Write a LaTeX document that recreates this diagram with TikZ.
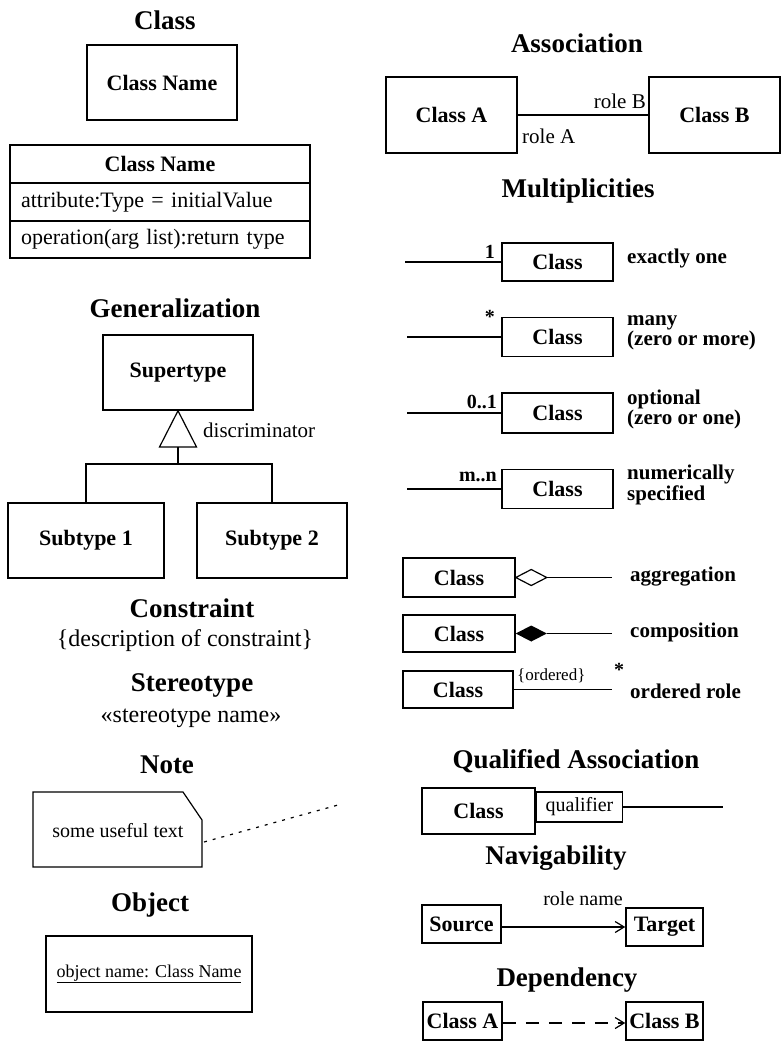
\documentclass[tikz,border=0pt]{standalone}
\usepackage{fontspec}
\setmainfont{Liberation Serif}
\usetikzlibrary{arrows.meta,calc}
\begin{document}
\begin{tikzpicture}[x=1pt,y=-1pt,
  box/.style={draw, line width=1.5pt, inner sep=0pt, font=\bfseries\fontsize{22}{24}\selectfont},
  ttl/.style={inner sep=0pt, font=\bfseries\fontsize{27}{30}\selectfont},
  txt/.style={inner sep=0pt, font=\fontsize{21}{23}\selectfont},
  big/.style={inner sep=0pt, font=\fontsize{24}{26}\selectfont},
  lbl/.style={inner sep=0pt, align=left, font=\bfseries\fontsize{21}{19}\selectfont},
  mult/.style={inner sep=0pt, font=\bfseries\fontsize{20}{22}\selectfont},
  ln/.style={line width=1.2pt},
  thk/.style={line width=2pt},
  opentip/.style={-{Straight Barb[length=9pt,width=11pt,line width=1.2pt]}}
]
\useasboundingbox (0,0) rectangle (783,1045);

% ---------- Class ----------
\node[ttl] (tclass) at (165,20) {Class};
\node[box, minimum width=150, minimum height=75] (cls1) at (162,82.5) {Class Name};
\node[box, minimum width=300, minimum height=38] (cn) at (160,164) {Class Name};
\node[box, font=\fontsize{22}{24}\selectfont, minimum width=300, minimum height=38, text width=278, align=left, inner xsep=11pt] (attr) at (160,202) {attribute:Type = initialValue};
\node[box, font=\fontsize{22}{24}\selectfont, minimum width=300, minimum height=37, text width=278, align=left, inner xsep=11pt] (op) at (160,239.5) {operation(arg list):return type};

% ---------- Generalization ----------
\node[ttl] (tgen) at (175,308) {Generalization};
\node[box, minimum width=150, minimum height=75] (super) at (178,372.5) {Supertype};
\node[box, minimum width=156, minimum height=75] (sub1) at (86,540.5) {Subtype 1};
\node[box, minimum width=150, minimum height=75] (sub2) at (272,540.5) {Subtype 2};
\coordinate (tb) at (178,447);
\coordinate (j) at (178,464);
\draw[ln] (super.south) -- (159.5,447) -- (196.5,447) -- cycle;
\draw[ln] (tb) -- (j);
\draw[ln] (sub1.north) |- (j) -| (sub2.north);
\node[txt, anchor=west] (disc) at (203,430) {discriminator};

% ---------- Constraint / Stereotype ----------
\node[ttl] (tcon) at (192,608) {Constraint};
\node[big] (con) at (185,641) {\{description of constraint\}};
\node[ttl] (tster) at (192,685) {Stereotype};
\node[big] (ster) at (191,718) {«stereotype name»};

% ---------- Note ----------
\node[ttl] (tnote) at (167,765) {Note};
\draw[ln] (33,792) -- (183,792) -- (202,820) -- (202,867) -- (33,867) -- cycle;
\node[txt, font=\fontsize{20}{22}\selectfont] (notetxt) at (118,831) {some useful text};
\coordinate (na) at (204,842);
\coordinate (nb) at (338,805);
\draw[line width=1.2pt, dash pattern=on 3pt off 6pt] (na) -- (nb);

% ---------- Object ----------
\node[ttl] (tobj) at (150,905) {Object};
\node[box, font=\fontsize{18}{20}\selectfont, minimum width=206, minimum height=76] (obj) at (149,974) {\underline{object name: Class Name}};

% ---------- Association ----------
\node[ttl] (tassoc) at (577,43) {Association};
\node[box, minimum width=131, minimum height=76] (ca) at (451.5,115) {Class A};
\node[box, minimum width=131, minimum height=76] (cb) at (714.5,115) {Class B};
\draw[ln] (ca) -- (cb);
\node[txt, anchor=east] (rb) at (646,101) {role B};
\node[txt, anchor=west] (ra) at (522,136) {role A};

% ---------- Multiplicities ----------
\node[ttl] (tmult) at (578,191) {Multiplicities};
\node[box, minimum width=111, minimum height=38] (m1) at (557.5,262) {Class};
\node[box, minimum width=111, minimum height=39] (m2) at (557.5,337) {Class};
\node[box, minimum width=111, minimum height=40] (m3) at (557.5,413) {Class};
\node[box, minimum width=111, minimum height=39] (m4) at (557.5,489) {Class};
\coordinate (l1) at (405,262);
\coordinate (l2) at (407,337);
\coordinate (l3) at (407,413);
\coordinate (l4) at (407,489);
\draw[thk] (l1) -- (m1);
\draw[ln] (l2) -- (m2);
\draw[thk] (l3) -- (m3);
\draw[ln] (l4) -- (m4);
\node[mult, anchor=base east] (k1) at (495,258) {1};
\node[mult, anchor=base east] (k2) at (495,323) {*};
\node[mult, anchor=base east] (k3) at (497,408) {0..1};
\node[mult, anchor=base east] (k4) at (497,481) {m..n};
\node[lbl, anchor=west] (d1) at (627,258) {exactly one};
\node[lbl, anchor=west] (d2) at (627,333) {many\\(zero or more)};
\node[lbl, anchor=west] (d3) at (627,409) {optional\\(zero or one)};
\node[lbl, anchor=west] (d4) at (627,485) {numerically\\specified};

% ---------- Aggregation / Composition / Ordered ----------
\node[box, minimum width=112, minimum height=39] (agg) at (459,577.5) {Class};
\node[box, minimum width=112, minimum height=37] (comp) at (459,633.5) {Class};
\node[box, minimum width=110, minimum height=37] (ord) at (458,689.5) {Class};
\coordinate (ae) at (612,577.5);
\coordinate (ce) at (612,633.5);
\coordinate (oe) at (612,689.5);
\draw[ln] (agg.east) -- ++(15.5,-8) -- ++(15.5,8) -- ++(-15.5,8) -- cycle;
\draw[ln] ($(agg.east)+(31,0)$) -- (ae);
\fill (comp.east) -- ++(15.5,-8) -- ++(15.5,8) -- ++(-15.5,8) -- cycle;
\draw[ln] ($(comp.east)+(31,0)$) -- (ce);
\draw[ln] (ord.east) -- (oe);
\node[lbl, anchor=west] (agt) at (630,577) {aggregation};
\node[lbl, anchor=west] (cot) at (630,632) {composition};
\node[lbl, anchor=west] (ort) at (630,691) {ordered role};
\node[txt, font=\fontsize{17}{19}\selectfont, anchor=west] (ordl) at (517,676) {\{ordered\}};
\node[mult, anchor=base] (ords) at (619,676) {*};

% ---------- Qualified Association ----------
\node[ttl] (tqual) at (576,761) {Qualified Association};
\node[box, minimum width=113, minimum height=46] (qc) at (478.5,811) {Class};
\node[box, font=\fontsize{20}{22}\selectfont, minimum width=86, minimum height=30, anchor=west] (qual) at (qc.east |- 0,807) {qualifier};
\coordinate (qe) at (723,807);
\draw[ln] (qual) -- (qe);

% ---------- Navigability ----------
\node[ttl] (tnav) at (556,858) {Navigability};
\node[box, minimum width=79, minimum height=38] (src) at (461.5,924) {Source};
\node[box, minimum width=77, minimum height=38] (tgt) at (664.5,927) {Target};
\draw[ln, opentip] (src.east |- tgt) -- (tgt.west);
\node[txt, font=\fontsize{20}{22}\selectfont] (rn) at (583,899) {role name};

% ---------- Dependency ----------
\node[ttl] (tdep) at (567,980) {Dependency};
\node[box, minimum width=79, minimum height=38] (da) at (462.5,1021) {Class A};
\node[box, minimum width=77, minimum height=38] (db) at (664.5,1021) {Class B};
\draw[ln, opentip, dash pattern=on 13pt off 10pt] ($(da.east)+(0,2)$) -- ($(db.west)+(0,2)$);
\end{tikzpicture}
\end{document}
